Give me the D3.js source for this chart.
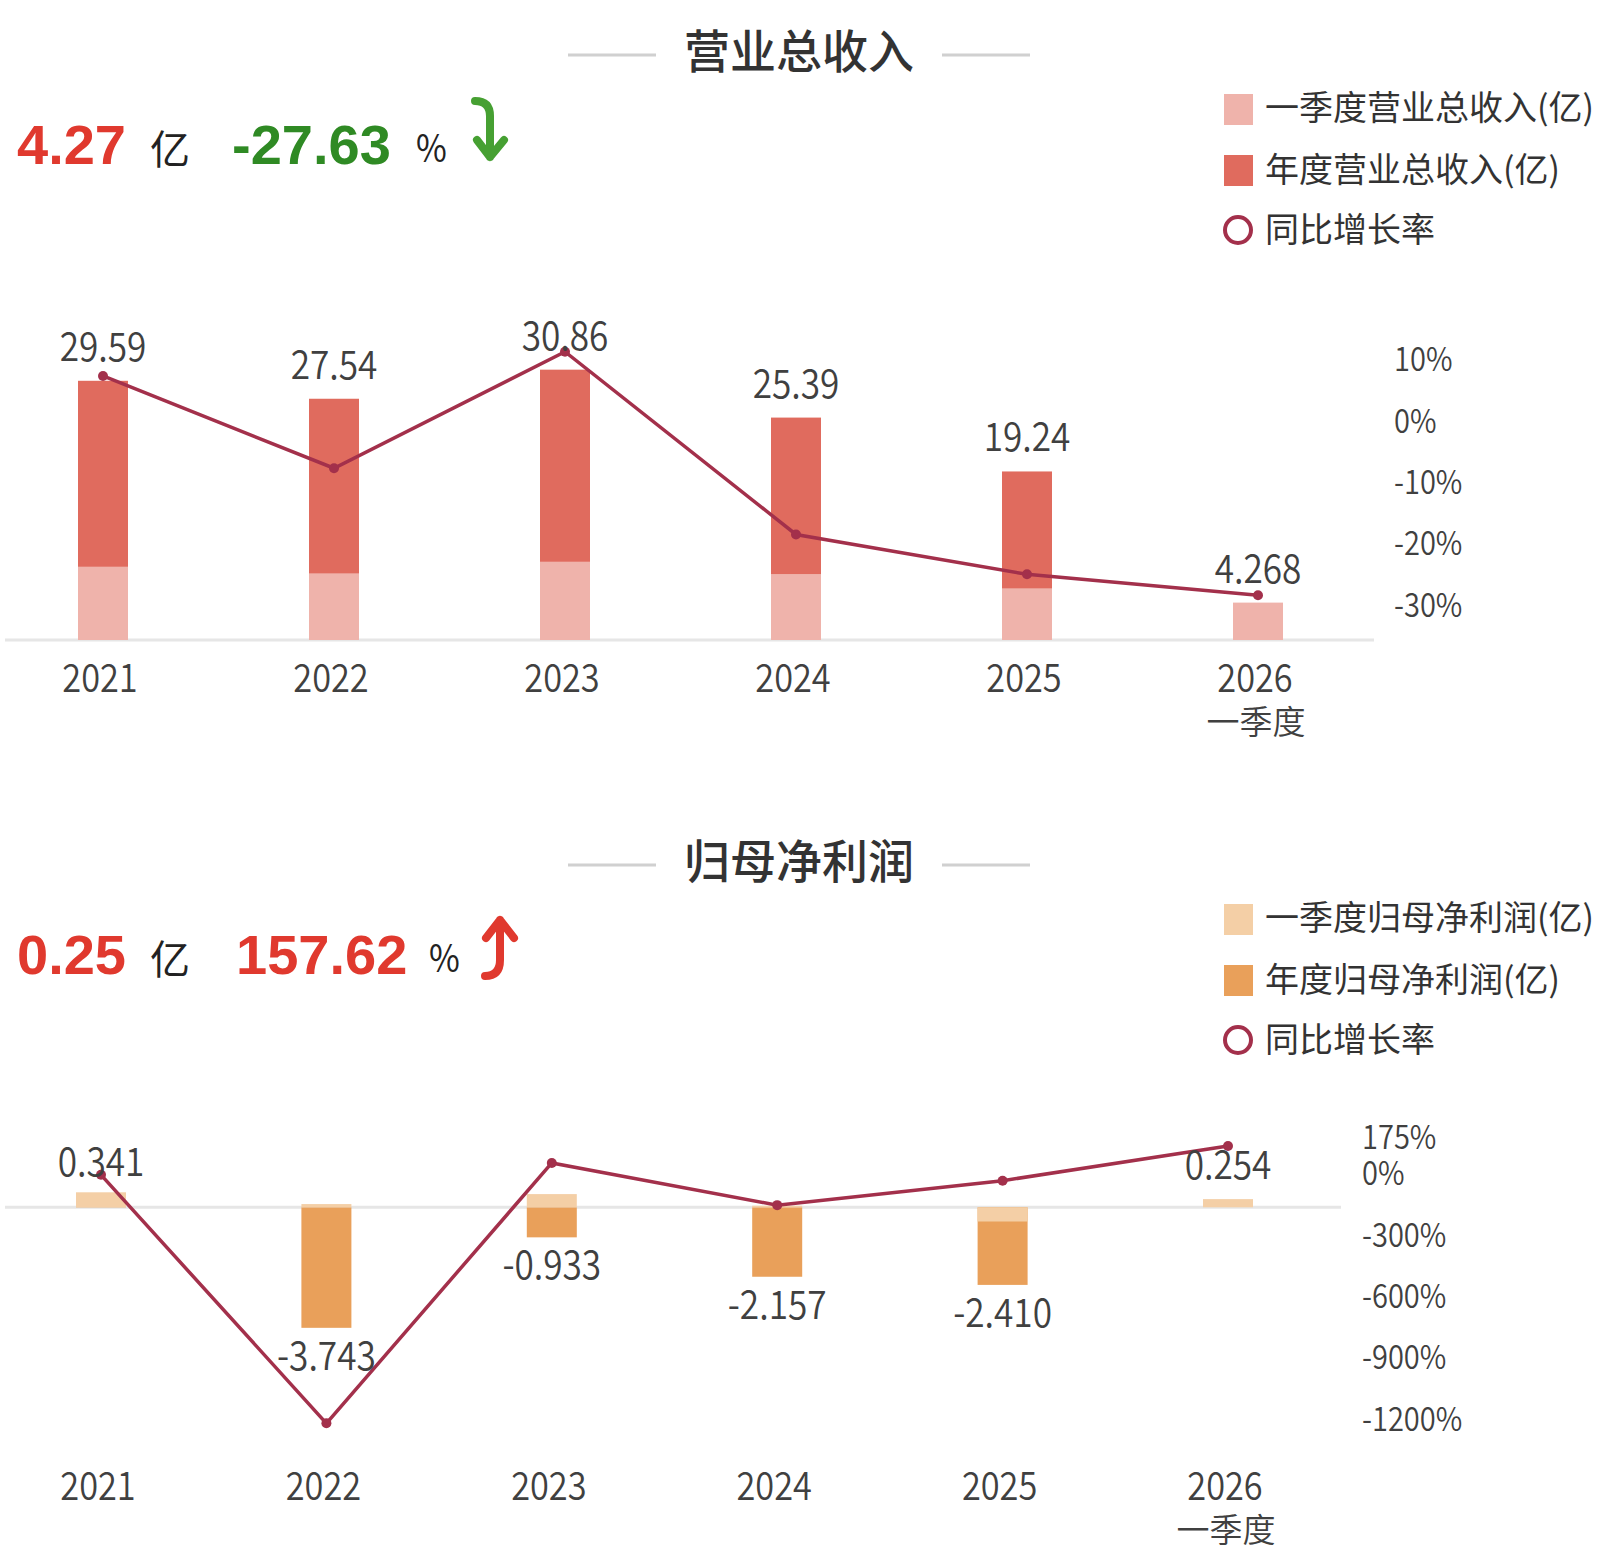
<!DOCTYPE html>
<html>
<head>
<meta charset="utf-8">
<script src="https://cdn.jsdelivr.net/npm/d3@7"></script>
<style>
  body { margin: 0; background: #fff; }
  text { font-family: "Noto Sans CJK SC", sans-serif; }
</style>
</head>
<body>
<div id="chart"></div>
<script>
// Chart data
const years = ["2021", "2022", "2023", "2024", "2025", "2026"];

const revAnnual = [29.59, 27.54, 30.86, 25.39, 19.24, null];
const revQuarter = [8.37, 7.61, 8.94, 7.53, 5.90, 4.268];
const revGrowth = [8.1, -6.93, 12.05, -17.73, -24.22, -27.63];
const revTicks = [10, 0, -10, -20, -30];

const profitAnnual = [0.341, -3.743, -0.933, -2.157, -2.410, null];
const profitQuarter = [0.466, 0.10, 0.41, 0.05, -0.441, 0.254];
const profitGrowth = [17, -1197.7, 75.07, -131.2, -11.73, 157.62];
const profitTicks = [175, 0, -300, -600, -900, -1200];

const width = 1620;
const height = 1566;
const cjk = "'Noto Sans CJK SC', sans-serif";
const bold = "'Liberation Sans', Arial, sans-serif";
const lineColor = "#a3304b";
const narrow = 0.88;  // the numbers in the original use a condensed face
const numWeight = 350;

let svg = d3.select("#chart").append("svg")
    .attr("width", width)
    .attr("height", height)

// place a text with a horizontal squeeze
function squeeze(x, y) {
    return "translate(" + x + "," + y + ") scale(" + narrow + ",1)"
}

function drawPanel(p) {
    let g = svg.append("g").attr("transform", "translate(0," + p.dy + ")")

    // title with side rules
    g.append("line").attr("x1", 568).attr("x2", 656).attr("y1", 55).attr("y2", 55)
        .style("stroke", "#d0d0d0").style("stroke-width", 3)
    g.append("line").attr("x1", 942).attr("x2", 1030).attr("y1", 55).attr("y2", 55)
        .style("stroke", "#d0d0d0").style("stroke-width", 3)
    g.append("text").attr("x", 799).attr("y", 68)
        .attr("text-anchor", "middle")
        .style("font-family", cjk).style("font-size", "46px").style("font-weight", 500)
        .style("fill", "#333").text(p.title)

    // headline numbers
    g.append("text").attr("x", 17).attr("y", 164)
        .style("font-family", bold).style("font-size", "56px").style("font-weight", "bold")
        .style("fill", "#e0392e").text(p.latest)
    g.append("text").attr("x", 150).attr("y", 164)
        .style("font-family", cjk).style("font-size", "40px").style("fill", "#222").text("亿")
    g.append("text").attr("x", p.pctX).attr("y", 164)
        .style("font-family", bold).style("font-size", "56px").style("font-weight", "bold")
        .style("fill", p.pctColor).text(p.pct)
    g.append("text").attr("transform", squeeze(p.pctX + (p.up ? 193 : 184), 162))
        .style("font-size", "38px").style("fill", "#222").text("%")

    // arrow
    let ax = p.up ? 500 : 490
    let arrow = p.up
        ? "M" + ax + ",110 L" + ax + ",150 Q" + ax + ",166 " + (ax - 15) + ",166 M" + (ax - 14) + ",128 L" + ax + ",110 L" + (ax + 14) + ",128"
        : "M" + (ax - 15) + ",101 Q" + ax + ",101 " + ax + ",116 L" + ax + ",157 M" + (ax - 13) + ",140 L" + ax + ",157 L" + (ax + 14) + ",140"
    g.append("path").attr("d", arrow)
        .style("fill", "none").style("stroke", p.up ? "#e0392e" : "#46a032")
        .style("stroke-width", 8).style("stroke-linecap", "round").style("stroke-linejoin", "round")

    // legend
    let leg = g.append("g")
    leg.append("rect").attr("x", 1224).attr("y", 94).attr("width", 29).attr("height", 31).style("fill", p.qColor)
    leg.append("rect").attr("x", 1224).attr("y", 155).attr("width", 29).attr("height", 31).style("fill", p.aColor)
    leg.append("circle").attr("cx", 1238).attr("cy", 230).attr("r", 13)
        .style("fill", "none").style("stroke", lineColor).style("stroke-width", 4)
    p.legend.forEach(function(t, i) {
        leg.append("text").attr("x", 1265).attr("y", [120, 182, 242][i])
            .style("font-family", cjk).style("font-size", "34px").style("fill", "#333").text(t)
    })

    // scales
    let x = d3.scalePoint().domain(years).range(p.xRange)
    let y = d3.scaleLinear().domain(p.yDomain).range(p.yRange)
    let yr = d3.scaleLinear().domain(p.rDomain).range(p.rRange)
    let bw = 50

    // baseline
    g.append("line").attr("x1", 5).attr("x2", p.axisEnd).attr("y1", y(0)).attr("y2", y(0))
        .style("stroke", "#e6e6e6").style("stroke-width", 3)

    let rows = years.map(function(d, i) {
        return {year: d, a: p.annual[i], q: p.quarter[i], r: p.growth[i]}
    })

    g.selectAll(".abar").data(rows.filter(function(d) { return d.a != null }))
        .enter().append("rect")
        .attr("x", function(d) { return x(d.year) - bw / 2 })
        .attr("y", function(d) { return y(Math.max(0, d.a)) })
        .attr("width", bw)
        .attr("height", function(d) { return Math.abs(y(d.a) - y(0)) })
        .style("fill", p.aColor)

    g.selectAll(".qbar").data(rows)
        .enter().append("rect")
        .attr("x", function(d) { return x(d.year) - bw / 2 })
        .attr("y", function(d) { return y(Math.max(0, d.q)) })
        .attr("width", bw)
        .attr("height", function(d) { return Math.abs(y(d.q) - y(0)) })
        .style("fill", p.qColor)

    // growth line
    let line = d3.line()
        .x(function(d) { return x(d.year) })
        .y(function(d) { return yr(d.r) })
    g.append("path").datum(rows).attr("d", line)
        .style("fill", "none").style("stroke", lineColor).style("stroke-width", 3.5)
    g.selectAll(".dot").data(rows).enter().append("circle")
        .attr("cx", function(d) { return x(d.year) })
        .attr("cy", function(d) { return yr(d.r) })
        .attr("r", 5)
        .style("fill", lineColor)

    // value labels
    g.selectAll(".val").data(rows).enter().append("text")
        .attr("transform", function(d) {
            let v = d.a != null ? d.a : d.q
            return squeeze(x(d.year), v >= 0 ? y(v) - 20 : y(v) + 42)
        })
        .attr("text-anchor", "middle")
        .style("font-size", "40px").style("font-weight", numWeight).style("fill", "#404040")
        .text(function(d) { return d.a != null ? d.a.toFixed(p.dec) : d.q.toFixed(3) })

    // category labels
    g.selectAll(".cat").data(rows).enter().append("text")
        .attr("transform", function(d) { return squeeze(x(d.year) - 3, p.catY) })
        .attr("text-anchor", "middle")
        .style("font-size", "39px").style("font-weight", numWeight).style("fill", "#404040")
        .text(function(d) { return d.year })
    g.append("text").attr("x", x(years[5]) - 2).attr("y", p.catY + 42)
        .attr("text-anchor", "middle")
        .style("font-family", cjk).style("font-size", "33px").style("font-weight", numWeight).style("fill", "#404040")
        .text("一季度")

    // right axis
    g.selectAll(".tick").data(p.ticks).enter().append("text")
        .attr("transform", function(d) { return squeeze(p.tickX, yr(d) - 2) })
        .attr("dominant-baseline", "middle")
        .style("font-size", "33px").style("font-weight", numWeight).style("fill", "#404040")
        .text(function(d) { return d + "%" })
}

drawPanel({
    dy: 0, title: "营业总收入", latest: "4.27", pct: "-27.63", pctX: 232, pctColor: "#2f8a24", up: false,
    legend: ["一季度营业总收入(亿)", "年度营业总收入(亿)", "同比增长率"],
    aColor: "#e06b5e", qColor: "#efb3ab",
    annual: revAnnual, quarter: revQuarter, growth: revGrowth, ticks: revTicks, dec: 2,
    xRange: [103, 1258], yDomain: [0, 35], yRange: [640, 333.4],
    rDomain: [-30, 10], rRange: [609.8, 364.3],
    axisEnd: 1374, catY: 692, tickX: 1394
})

drawPanel({
    dy: 810, title: "归母净利润", latest: "0.25", pct: "157.62", pctX: 236, pctColor: "#e0392e", up: true,
    legend: ["一季度归母净利润(亿)", "年度归母净利润(亿)", "同比增长率"],
    aColor: "#e9a05a", qColor: "#f4cfa6",
    annual: profitAnnual, quarter: profitQuarter, growth: profitGrowth, ticks: profitTicks, dec: 3,
    xRange: [101, 1228], yDomain: [-4, 1], yRange: [1336.1 - 810, 1175.1 - 810],
    rDomain: [-1200, 175], rRange: [1423.8 - 810, 1142.5 - 810],
    axisEnd: 1341, catY: 1500 - 810, tickX: 1362
})
</script>
</body>
</html>
